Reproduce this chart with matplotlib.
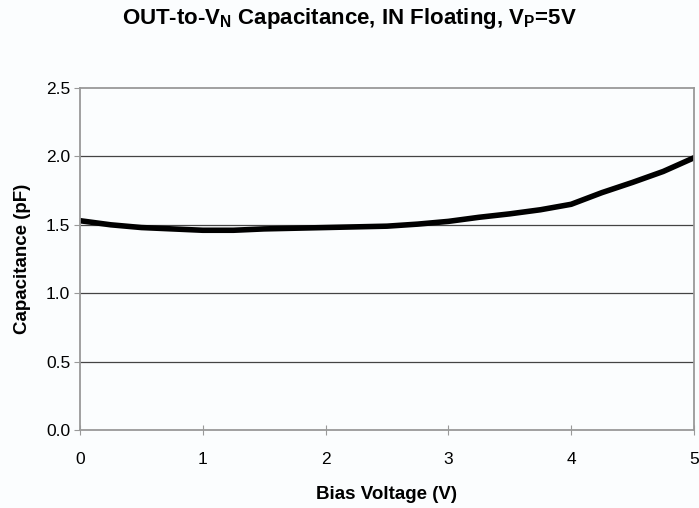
import matplotlib
matplotlib.use('Agg')
import matplotlib.pyplot as plt

# bias voltage (V) and capacitance (pF)
bias_v = [0, 0.25, 0.5, 0.75, 1.0, 1.25, 1.5, 1.75, 2.0, 2.25, 2.5,
          2.75, 3.0, 3.25, 3.5, 3.75, 4.0, 4.25, 4.5, 4.75, 5.0]
cap_pf = [1.53, 1.50, 1.48, 1.47, 1.46, 1.46, 1.47, 1.475, 1.48, 1.485, 1.49,
          1.505, 1.525, 1.555, 1.58, 1.61, 1.65, 1.735, 1.81, 1.89, 1.99]

x_ticks = [0, 1, 2, 3, 4, 5]
y_ticks = [0.0, 0.5, 1.0, 1.5, 2.0, 2.5]

plt.rcParams['font.family'] = 'Liberation Sans'
plt.rcParams['mathtext.fontset'] = 'custom'
plt.rcParams['mathtext.rm'] = 'Liberation Sans:bold'
plt.rcParams['mathtext.bf'] = 'Liberation Sans:bold'

bg = '#fbfdfe'
fig = plt.figure(figsize=(6.99, 5.08), dpi=100, facecolor=bg)
ax = fig.add_axes([0.1144, 0.1535, 0.8784, 0.6733], facecolor=bg)

ax.plot(bias_v, cap_pf, color='black', lw=4, solid_capstyle='round')

ax.set_xlim(0, 5)
ax.set_ylim(0, 2.5)
ax.set_xticks(x_ticks)
ax.set_yticks(y_ticks)
ax.set_xticklabels([str(v) for v in x_ticks])
ax.set_yticklabels(['%.1f' % v for v in y_ticks])

for y in y_ticks[1:-1]:
    ax.axhline(y, color='#444444', lw=0.9, zorder=0)

for s in ax.spines.values():
    s.set_color('#999999')
    s.set_linewidth(1.3)

ax.tick_params(axis='y', direction='out', length=4, color='#999999',
               labelsize=12.5, pad=3)
ax.tick_params(axis='x', direction='inout', length=7, color='#999999',
               labelsize=12.5, pad=12)

ax.set_xlabel('Bias Voltage (V)', fontsize=13.5, fontweight='bold', labelpad=14)
ax.set_ylabel('Capacitance (pF)', fontsize=13.5, fontweight='bold', labelpad=11)

fig.text(0.5, 0.963, r'OUT-to-V$_\mathrm{N}$ Capacitance, IN Floating, V$_\mathrm{P}$=5V',
         ha='center', va='center', fontsize=16, fontweight='bold')

fig.savefig('out.png', dpi=100, facecolor=bg)
